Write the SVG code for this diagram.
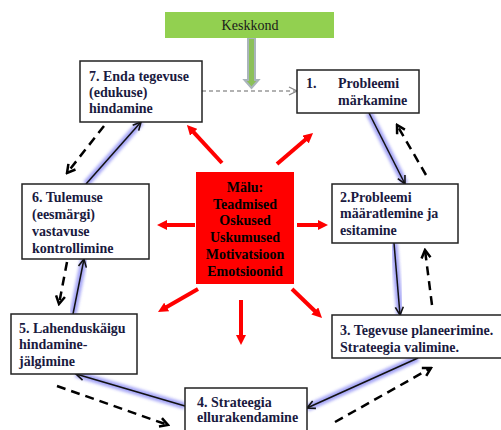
<svg xmlns="http://www.w3.org/2000/svg" width="501" height="430" viewBox="0 0 501 430">
<defs>
<style>
.box{fill:#fff;stroke:#222;stroke-width:1.5}
.t{font-family:"Liberation Serif","Times New Roman",serif;font-size:14px;font-weight:bold;fill:#1a1a40}
.tc{font-family:"Liberation Serif","Times New Roman",serif;font-size:14px;font-weight:bold;fill:#000;text-anchor:middle}
.red{stroke:#ff0000;stroke-width:4;fill:none;marker-end:url(#ra)}
.glow{stroke:#6a6af0;stroke-width:7;opacity:.6;fill:none;filter:url(#blur)}
.sol{stroke:#111;stroke-width:1.5;fill:none;marker-end:url(#sa)}
.dash{stroke:#000;stroke-width:2.5;fill:none;stroke-dasharray:9 6;marker-end:url(#da)}
</style>
<filter id="blur" x="-20%" y="-20%" width="140%" height="140%"><feGaussianBlur stdDeviation="1.8"/></filter>
<marker id="ra" viewBox="0 0 10 10" refX="4" refY="5" markerWidth="10" markerHeight="10" markerUnits="userSpaceOnUse" orient="auto"><path d="M0,0 L10,5 L0,10 z" fill="#ff0000"/></marker>
<marker id="sa" viewBox="0 0 10 10" refX="9" refY="5" markerWidth="10" markerHeight="10" markerUnits="userSpaceOnUse" orient="auto"><path d="M1,1 L9,5 L1,9" fill="none" stroke="#111" stroke-width="1.6"/></marker>
<marker id="da" viewBox="0 0 12 12" refX="10" refY="6" markerWidth="12" markerHeight="12" markerUnits="userSpaceOnUse" orient="auto"><path d="M2,1.5 L10,6 L2,10.5" fill="none" stroke="#000" stroke-width="2.5"/></marker>
<marker id="ga" viewBox="0 0 10 10" refX="9" refY="5" markerWidth="10" markerHeight="10" markerUnits="userSpaceOnUse" orient="auto"><path d="M1,1 L9,5 L1,9" fill="none" stroke="#888" stroke-width="1.3"/></marker>
</defs>
<rect width="501" height="430" fill="#fff"/>

<g id="connectors">
  <path d="M248,38 L255,38 L255,80 L258.5,80 L251.5,88 L244.5,80 L248,80 z" fill="#8cc05a" stroke="#a9b4bb" stroke-width="2"/>
  <line x1="202" y1="91" x2="297" y2="91" stroke="#999" stroke-width="1.5" stroke-dasharray="4 3" marker-end="url(#ga)"/>
  <path d="M198,88 L194,91 L198,94" fill="none" stroke="#9cc" stroke-width="1"/>

  <line class="red" x1="222" y1="163" x2="191" y2="129.4"/>
  <line class="red" x1="277" y1="164" x2="308.5" y2="137"/>
  <line class="red" x1="195" y1="225" x2="163" y2="225"/>
  <line class="red" x1="297" y1="225" x2="322" y2="225"/>
  <line class="red" x1="198" y1="289" x2="163.2" y2="309"/>
  <line class="red" x1="241" y1="300" x2="241" y2="339"/>
  <line class="red" x1="292" y1="289" x2="317.7" y2="313.8"/>

  <line class="glow" x1="369" y1="113" x2="405" y2="184"/>
  <line class="glow" x1="394" y1="243" x2="400" y2="315"/>
  <line class="glow" x1="418" y1="358" x2="307" y2="408"/>
  <line class="glow" x1="185" y1="406" x2="76" y2="374"/>
  <line class="glow" x1="73" y1="314" x2="84" y2="259"/>
  <line class="glow" x1="86" y1="184" x2="141" y2="122"/>
  <line class="sol" x1="369" y1="113" x2="405" y2="184"/>
  <line class="sol" x1="394" y1="243" x2="400" y2="315"/>
  <line class="sol" x1="418" y1="358" x2="307" y2="408"/>
  <line class="sol" x1="185" y1="406" x2="76" y2="374"/>
  <line class="sol" x1="73" y1="314" x2="84" y2="259"/>
  <line class="sol" x1="86" y1="184" x2="141" y2="122"/>

  <line class="dash" x1="104" y1="126" x2="67" y2="173"/>
  <line class="dash" x1="67" y1="262" x2="59" y2="304"/>
  <line class="dash" x1="57" y1="386" x2="168" y2="425"/>
  <line class="dash" x1="335" y1="422" x2="431" y2="368"/>
  <line class="dash" x1="432" y1="305" x2="425" y2="250"/>
  <line class="dash" x1="426" y1="175" x2="397" y2="125"/>
</g>

<g id="keskkond">
  <rect x="165" y="12" width="169" height="26" fill="#92d050"/>
  <text x="250" y="30" text-anchor="middle" font-family="Liberation Serif, Times New Roman, serif" font-size="14" fill="#1a1a1a">Keskkond</text>
</g>

<g id="malu">
  <rect x="196" y="172" width="98" height="112" fill="#ff0000"/>
  <text class="tc" x="245" y="192">Mälu:</text>
  <text class="tc" x="245" y="209">Teadmised</text>
  <text class="tc" x="245" y="225">Oskused</text>
  <text class="tc" x="245" y="242">Uskumused</text>
  <text class="tc" x="245" y="259">Motivatsioon</text>
  <text class="tc" x="245" y="276">Emotsioonid</text>
</g>

<g id="node1">
  <rect class="box" x="297" y="70" width="122" height="43"/>
  <text class="t" x="306" y="88">1.</text>
  <text class="t" x="338" y="88">Probleemi</text>
  <text class="t" x="338" y="105">märkamine</text>
</g>

<g id="node2">
  <rect class="box" x="332" y="184" width="126" height="59"/>
  <text class="t" x="340" y="202">2.Probleemi</text>
  <text class="t" x="340" y="218">määratlemine ja</text>
  <text class="t" x="340" y="235">esitamine</text>
</g>

<g id="node3">
  <rect class="box" x="332" y="315" width="170" height="43"/>
  <text class="t" x="340" y="335">3. Tegevuse planeerimine.</text>
  <text class="t" x="340" y="352">Strateegia valimine.</text>
</g>

<g id="node4">
  <rect class="box" x="185" y="388" width="122" height="50"/>
  <text class="t" x="197" y="407">4. Strateegia</text>
  <text class="t" x="197" y="422">ellurakendamine</text>
</g>

<g id="node5">
  <rect class="box" x="11" y="314" width="126" height="60"/>
  <text class="t" x="19" y="333">5. Lahenduskäigu</text>
  <text class="t" x="19" y="349">hindamine-</text>
  <text class="t" x="19" y="366">jälgimine</text>
</g>

<g id="node6">
  <rect class="box" x="22" y="184" width="127" height="75"/>
  <text class="t" x="32" y="202">6. Tulemuse</text>
  <text class="t" x="32" y="219">(eesmärgi)</text>
  <text class="t" x="32" y="236">vastavuse</text>
  <text class="t" x="32" y="253">kontrollimine</text>
</g>

<g id="node7">
  <rect class="box" x="80" y="61" width="122" height="61"/>
  <text class="t" x="89" y="81">7. Enda tegevuse</text>
  <text class="t" x="89" y="97">(edukuse)</text>
  <text class="t" x="89" y="113">hindamine</text>
</g>
</svg>
